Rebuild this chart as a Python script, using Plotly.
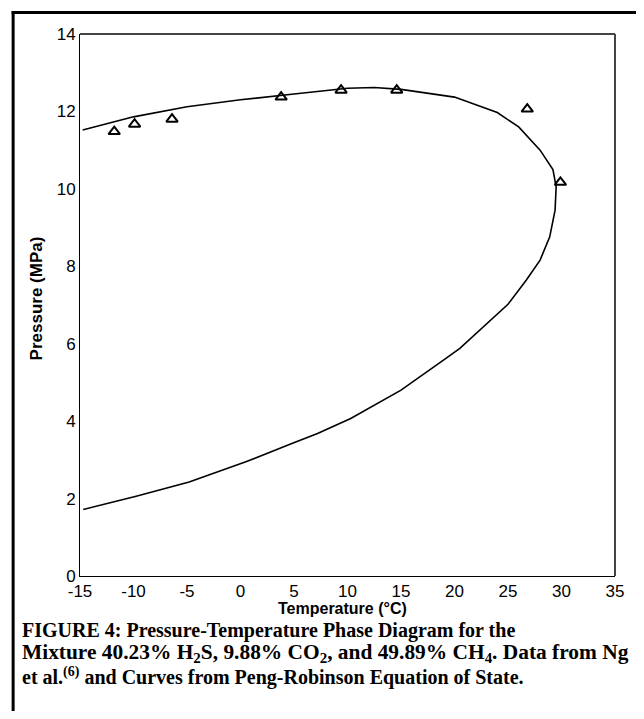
import plotly.graph_objects as go

# Peng-Robinson phase envelope
curve_T = [-14.75, -10.0, -5.0, 0.0, 5.0, 10.0, 12.5, 15.0, 20.0, 24.0, 26.0, 28.0,
           29.2, 29.5, 29.4, 28.9, 28.0, 26.7, 25.0, 22.7, 20.5, 19.0, 15.0, 10.3,
           7.2, 4.8, 0.5, -4.8, -9.75, -14.7]
curve_P = [11.52, 11.86, 12.12, 12.30, 12.45, 12.60, 12.62, 12.57, 12.37, 11.97, 11.60, 11.00,
           10.50, 10.05, 9.45, 8.76, 8.16, 7.64, 7.02, 6.44, 5.88, 5.58, 4.80, 4.07,
           3.68, 3.42, 2.95, 2.43, 2.06, 1.72]

# Experimental data (Ng et al.)
exp_T = [-11.8, -9.9, -6.4, 3.8, 9.4, 14.6, 26.8, 29.9]
exp_P = [11.48, 11.67, 11.80, 12.37, 12.55, 12.55, 12.06, 10.17]

x_ticks = [-15, -10, -5, 0, 5, 10, 15, 20, 25, 30, 35]
y_ticks = [0, 2, 4, 6, 8, 10, 12, 14]

# page body has an 8px margin; size the figure so the page fits the window
OFF = 8
W, H = 644 - 2 * OFF, 719 - 2 * OFF
ML, MR, MT, MB = 72, 16, 26, 135
PW, PH = W - ML - MR, H - MT - MB

def px(xp):  # window pixel -> paper
    return (xp - OFF - ML) / PW

def py(yp):
    return (H - MB - (yp - OFF)) / PH

fig = go.Figure()
fig.add_trace(go.Scatter(x=curve_T, y=curve_P, mode="lines",
                         line=dict(color="black", width=1.6), showlegend=False,
                         cliponaxis=False))
fig.add_trace(go.Scatter(x=exp_T, y=exp_P, mode="markers",
                         marker=dict(symbol="triangle-up-open", size=10, color="black",
                                     line=dict(color="black", width=2)),
                         showlegend=False))

tick_font = dict(family="Liberation Sans, Arial, sans-serif", size=17, color="black")
fig.update_xaxes(range=[-15, 35], tickvals=x_ticks, ticktext=[str(v) for v in x_ticks],
                 showgrid=False, zeroline=False, showline=True, linecolor="black",
                 linewidth=1, ticks="", tickfont=tick_font)
fig.update_yaxes(range=[0, 14], tickvals=y_ticks, ticktext=[str(v) for v in y_ticks],
                 showgrid=False, zeroline=False, showline=True, linecolor="black",
                 linewidth=1, ticks="", tickfont=tick_font)

shapes = [
    # top and right plot borders (grey, a bit heavier)
    dict(type="line", xref="paper", yref="paper", x0=0, x1=1, y0=1, y1=1,
         line=dict(color="#444", width=2)),
    dict(type="line", xref="paper", yref="paper", x0=1, x1=1, y0=0, y1=1,
         line=dict(color="#444", width=2)),
    # outer figure frame (top and left)
    dict(type="line", xref="paper", yref="paper", x0=px(11), x1=px(660), y0=py(12.5), y1=py(12.5),
         line=dict(color="black", width=3)),
    dict(type="line", xref="paper", yref="paper", x0=px(12.5), x1=px(12.5), y0=py(11), y1=py(740),
         line=dict(color="black", width=3)),
]

xt_font = dict(family="Liberation Sans, Arial, sans-serif", size=16, color="black")
yt_font = dict(family="Liberation Sans, Arial, sans-serif", size=17, color="black")
def cap(size):
    return dict(family="Liberation Serif, Times New Roman, serif", size=size, color="black")

annotations = [
    dict(text="<b>Temperature (°C)</b>", xref="paper", yref="paper",
         x=px(345), y=py(608), xanchor="center", yanchor="middle", showarrow=False, font=xt_font),
    dict(text="<b>Pressure (MPa)</b>", xref="paper", yref="paper", textangle=-90,
         x=px(36), y=py(298), xanchor="center", yanchor="middle", showarrow=False, font=yt_font),
    dict(text="<b>FIGURE 4: Pressure-Temperature Phase Diagram for the</b>",
         xref="paper", yref="paper", x=px(19), y=py(630), xanchor="left", yanchor="middle",
         showarrow=False, font=cap(20)),
    dict(text="<b>Mixture 40.23% H<sub>2</sub>S, 9.88% CO<sub>2</sub>, and 49.89% CH<sub>4</sub>. Data from Ng</b>",
         xref="paper", yref="paper", x=px(19), y=py(653), xanchor="left", yanchor="middle",
         showarrow=False, font=cap(21.4)),
    dict(text="<b>et al.<sup>(6)</sup> and Curves from Peng-Robinson Equation of State.</b>",
         xref="paper", yref="paper", x=px(19), y=py(676), xanchor="left", yanchor="middle",
         showarrow=False, font=cap(20)),
]

fig.update_layout(width=W, height=H, margin=dict(l=ML, r=MR, t=MT, b=MB, pad=0),
                  paper_bgcolor="white", plot_bgcolor="white",
                  shapes=shapes, annotations=annotations, showlegend=False)

fig.write_html("out.html")
